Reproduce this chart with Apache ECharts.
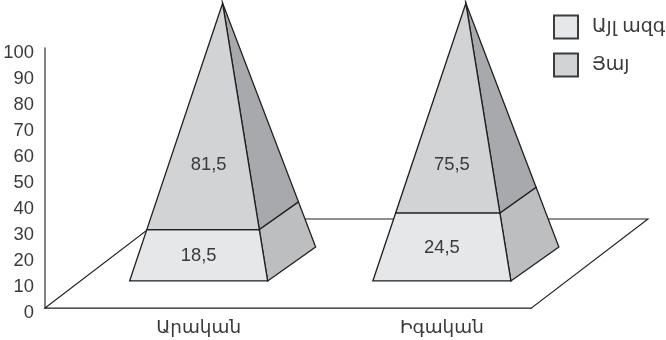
<!DOCTYPE html>
<html><head><meta charset="utf-8">
<style>html,body{margin:0;padding:0;background:#fff}#c{width:666px;height:340px}</style>
<script src="https://cdn.jsdelivr.net/npm/echarts@6/dist/echarts.min.js"></script>
</head><body><div id="c"></div>
<script>
const categories = ['Արական', 'Իգական'];
const seriesNames = ['Այլ ազգ', 'Յայ'];
const otherValues = [18.5, 24.5];
const armenianValues = [81.5, 75.5];
const tickLabels = [0, 10, 20, 30, 40, 50, 60, 70, 80, 90, 100];

const FONT = '"Liberation Sans","DejaVu Sans",sans-serif';
const TEXT = '#3a3a3c', EDGE = '#231f20';
const FS = 18.4;
const COLORS = {
  lowFront: '#e6e7e8', lowSide: '#bcbec0',
  highFront: '#d1d3d4', highSide: '#a7a9ac'
};
// perspective of the drawing, expressed on the value axis
const BASE_VALUE = 10.4, HEIGHT_UNITS = 106.8, LABEL_SHARE = 0.417;
const BAND_SHIFT = 32, HALF = 69, DEPTH_X = 48, DEPTH_Y = -34;
const FLOOR_DX = 116.5, FLOOR_DY = -89;

const fmt = v => v.toFixed(1).replace('.', ',');
const lerp = (a, b, t) => a + (b - a) * t;

function corners(api, cat, share) {
  const y = s => api.coord([cat, BASE_VALUE + s * HEIGHT_UNITS])[1];
  const cx = api.coord([cat, 0])[0] + BAND_SHIFT;
  const y0 = y(0), yTop = y(1), ax = cx + DEPTH_X / 2;
  return {
    cx,
    fl: [lerp(cx - HALF, ax, share), y(share)],
    fr: [lerp(cx + HALF, ax, share), y(share)],
    br: [lerp(cx + HALF + DEPTH_X, ax, share), lerp(y0 + DEPTH_Y, yTop, share)]
  };
}
function poly(points, fill) {
  return { type: 'polygon', shape: { points },
    style: { fill, stroke: EDGE, lineWidth: 1.3, lineJoin: 'miter' } };
}
function label(x, y, value) {
  return { type: 'text', z2: 5, style: { x, y, text: fmt(value), font: FS + 'px ' + FONT,
    fill: TEXT, align: 'center', verticalAlign: 'middle' } };
}
function lowerItem(params, api) {
  const cat = api.value(0), v = api.value(1);
  const a = corners(api, cat, 0), b = corners(api, cat, v / 100);
  return { type: 'group', children: [
    poly([a.fr, a.br, b.br, b.fr], COLORS.lowSide),
    poly([a.fl, a.fr, b.fr, b.fl], COLORS.lowFront),
    label(a.cx, (a.fl[1] + b.fl[1]) / 2 + 1, v)
  ]};
}
function upperItem(params, api) {
  const cat = api.value(0), v = api.value(1);
  const a = corners(api, cat, (100 - v) / 100), b = corners(api, cat, 1), m = corners(api, cat, LABEL_SHARE);
  return { type: 'group', children: [
    poly([a.fr, a.br, b.br], COLORS.highSide),
    poly([a.fl, a.fr, b.fr], COLORS.highFront),
    label(m.cx + LABEL_SHARE * DEPTH_X / 2, m.fl[1], v)
  ]};
}
function floorItem(params) {
  const g = params.coordSys, yb = g.y + g.height, xl = g.x, xr = g.x + g.width;
  return { type: 'polygon', shape: { points: [[xl, yb], [xr, yb], [xr + FLOOR_DX, yb + FLOOR_DY], [xl + FLOOR_DX, yb + FLOOR_DY]] },
    style: { fill: '#fff', stroke: EDGE, lineWidth: 1.1 } };
}

const chart = echarts.init(document.getElementById('c'), null, { renderer: 'canvas' });
chart.setOption({
  animation: false,
  backgroundColor: '#fff',
  textStyle: { fontFamily: FONT },
  grid: { left: 45, top: 48, width: 486.5, height: 260, containLabel: false },
  legend: {
    data: seriesNames, orient: 'vertical', left: 553, top: 14.5, padding: 0,
    itemWidth: 24, itemHeight: 23, itemGap: 13, icon: 'rect',
    selectedMode: false,
    textStyle: { fontFamily: FONT, fontSize: 19, color: TEXT, width: 70, overflow: 'none', padding: [0, 0, 0, 9] }
  },
  xAxis: {
    type: 'category', data: categories,
    axisLine: { lineStyle: { color: '#636466', width: 1.6 } },
    axisTick: { show: false },
    axisLabel: { fontFamily: FONT, fontSize: FS, color: TEXT, margin: 11, padding: [0, 0, 0, BAND_SHIFT * 2] }
  },
  yAxis: {
    type: 'value', min: 0, max: 100, interval: 10,
    axisLine: { show: true, lineStyle: { color: '#636466', width: 1.6 } },
    axisTick: { show: false }, splitLine: { show: false },
    axisLabel: { fontFamily: FONT, fontSize: FS, color: TEXT, margin: 11, verticalAlign: 'top', lineHeight: 9,
      formatter: v => tickLabels[Math.round(v / 10)] }
  },
  series: [
    { type: 'custom', name: 'floor', z: 1, silent: true, renderItem: floorItem, data: [[0, 0]], encode: { x: 0, y: 1 } },
    { type: 'custom', name: seriesNames[0], z: 3, renderItem: lowerItem,
      itemStyle: { color: COLORS.lowFront, borderColor: '#3c3c3e', borderWidth: 1.4 },
      data: otherValues.map((v, i) => [i, v]), encode: { x: 0, y: 1 } },
    { type: 'custom', name: seriesNames[1], z: 3, renderItem: upperItem,
      itemStyle: { color: COLORS.highFront, borderColor: '#3c3c3e', borderWidth: 1.4 },
      data: armenianValues.map((v, i) => [i, v]), encode: { x: 0, y: 1 } }
  ]
});
</script></body></html>
